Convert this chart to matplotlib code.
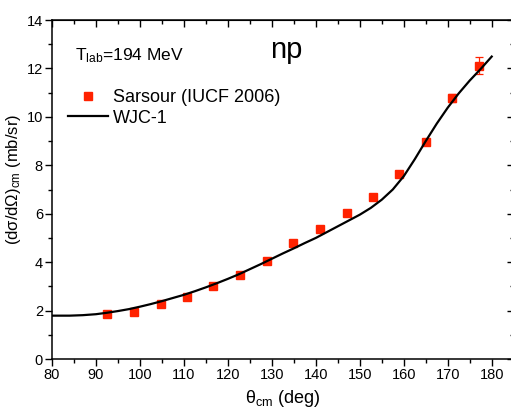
import matplotlib
matplotlib.use("Agg")
import matplotlib.pyplot as plt
from matplotlib.lines import Line2D

plt.rcParams['font.family'] = ['Liberation Sans', 'DejaVu Sans']
plt.rcParams['mathtext.fontset'] = 'custom'
plt.rcParams['mathtext.rm'] = 'Liberation Sans'
plt.rcParams['mathtext.it'] = 'Liberation Sans:italic'

# Sarsour (IUCF 2006) data
theta_exp = [92.6, 98.7, 104.7, 110.7, 116.7, 122.8, 128.8, 134.9,
             140.9, 147.0, 152.9, 159.0, 165.1, 171.0, 177.1]
xs_exp = [1.87, 1.94, 2.27, 2.56, 3.0, 3.47, 4.03, 4.79,
          5.38, 6.03, 6.68, 7.64, 8.96, 10.78, 12.12]
err_exp = [0.06, 0.06, 0.06, 0.07, 0.07, 0.08, 0.08, 0.09,
           0.09, 0.1, 0.1, 0.1, 0.12, 0.17, 0.35]

# WJC-1 curve
theta_wjc = [80, 84, 87, 90, 92.5, 95, 97.5, 100, 102.5, 105, 107.5, 110,
             112.5, 115, 117.5, 120, 122.5, 125, 127.5, 130, 132.5, 135,
             137.5, 140, 142.5, 145, 147.5, 150, 152.5, 155, 157.5, 160,
             162.5, 165, 167.5, 170, 172.5, 175, 177.5, 180]
xs_wjc = [1.79, 1.79, 1.81, 1.85, 1.91, 1.98, 2.06, 2.16, 2.27, 2.39, 2.52,
          2.65, 2.8, 2.96, 3.13, 3.31, 3.5, 3.71, 3.92, 4.14, 4.36, 4.57,
          4.79, 5.0, 5.24, 5.48, 5.72, 5.96, 6.24, 6.58, 7.0, 7.55, 8.25,
          9.0, 9.72, 10.38, 10.97, 11.5, 11.98, 12.49]

fig = plt.figure(figsize=(5.11, 4.15), dpi=100)
ax = fig.add_axes([52/511, 56/415, 461.7/511, 339/415])

red = '#ff2200'
ax.errorbar(theta_exp, xs_exp, yerr=err_exp, fmt='s', color=red, ms=5.2,
            mec=red, ecolor=red, elinewidth=0.9, capsize=3, capthick=0.9,
            zorder=3)
ax.plot(theta_wjc, xs_wjc, color='black', lw=1.6, zorder=4)

ax.set_xlim(80, 185)
ax.set_ylim(0, 14)
ax.set_xticks(range(80, 181, 10))
ax.set_xticks(range(85, 186, 10), minor=True)
ax.set_yticks(range(0, 15, 2))
ax.set_yticks(range(1, 14, 2), minor=True)
ax.tick_params(which='both', direction='out', labelsize=10.5, width=1.0,
               top=False, right=False, pad=1.5)
ax.tick_params(which='major', length=5)
ax.tick_params(which='minor', length=3)
for s in ax.spines.values():
    s.set_linewidth(1.1)

top = ax.secondary_xaxis('top')
top.set_xticks(range(80, 186, 10))
top.set_xticks(range(85, 186, 10), minor=True)
top.tick_params(which='both', direction='in', labeltop=False, width=1.0)
top.tick_params(which='major', length=5)
top.tick_params(which='minor', length=3)
right = ax.secondary_yaxis('right')
right.set_yticks(range(0, 15, 2))
right.set_yticks(range(1, 14, 2), minor=True)
right.tick_params(which='both', direction='in', labelright=False, width=1.0)
right.tick_params(which='major', length=5)
right.tick_params(which='minor', length=3)

ax.set_xlabel('θ$_{\\rm cm}$ (deg)', fontsize=13, labelpad=4)
ax.set_ylabel('(dσ/dΩ)$_{\\rm cm}$ (mb/sr)', fontsize=12, labelpad=4)
ax.yaxis.set_label_coords(-0.062, 0.53)

fig.text(75/511, 1 - 60/415, r'T$_{\rm lab}$=194 MeV', fontsize=12.5,
         va='baseline', ha='left')
fig.text(270/511, 1 - 58/415, 'np', fontsize=21, va='baseline', ha='left')

handles = [Line2D([], [], ls='none', marker='s', color=red, ms=5.2),
           Line2D([], [], color='black', lw=1.6)]
labels = ['Sarsour (IUCF 2006)', 'WJC-1']
ax.legend(handles, labels, loc='upper left', bbox_to_anchor=(68/511, 326/415),
          bbox_transform=fig.transFigure, frameon=False, fontsize=13,
          borderpad=0, borderaxespad=0, handlelength=2.2,
          handletextpad=0.3, labelspacing=0.2, numpoints=1)

fig.savefig('out.png', dpi=100)
